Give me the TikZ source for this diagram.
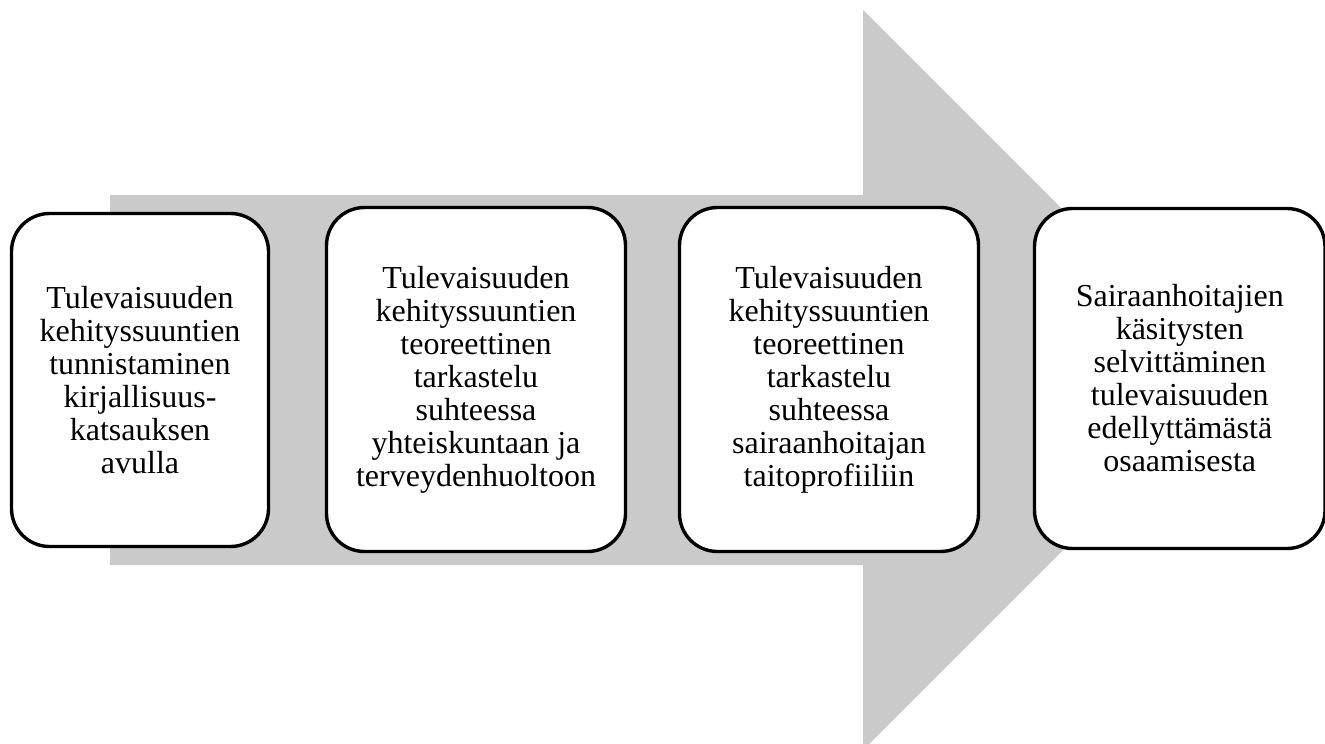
\documentclass[tikz,border=0pt]{standalone}
\usepackage{fontspec}
\setmainfont{Liberation Serif}
\definecolor{arrowgray}{RGB}{202,202,202}
\begin{document}
\begin{tikzpicture}[x=1pt,y=-1pt,
  stagebox/.style={draw=black, line width=3.4pt, fill=white, rounded corners=38pt,
    align=center, inner sep=0pt, font=\fontsize{32}{33}\selectfont}]
  \useasboundingbox (0,0) rectangle (1325,744);
  \clip (0,0) rectangle (1325,744);
  % broad gray process arrow behind the stages
  \fill[arrowgray] (110,195) -- (863,195) -- (863,10) -- (1233,380)
    -- (863,750) -- (863,565) -- (110,565) -- cycle;
  % stages
  \node[stagebox, minimum width=257pt, minimum height=333pt] (s1) at (140,380)
    {Tulevaisuuden\\kehityssuuntien\\tunnistaminen\\kirjallisuus-\\katsauksen\\avulla};
  \node[stagebox, minimum width=299pt, minimum height=344pt] (s2) at (476,379.5)
    {Tulevaisuuden\\kehityssuuntien\\teoreettinen\\tarkastelu\\suhteessa\\yhteiskuntaan ja\\terveydenhuoltoon};
  \node[stagebox, minimum width=299pt, minimum height=344pt] (s3) at (829,379.5)
    {Tulevaisuuden\\kehityssuuntien\\teoreettinen\\tarkastelu\\suhteessa\\sairaanhoitajan\\taitoprofiiliin};
  \node[stagebox, minimum width=290.5pt, minimum height=340pt] (s4) at (1179.75,378.5)
    {Sairaanhoitajien\\käsitysten\\selvittäminen\\tulevaisuuden\\edellyttämästä\\osaamisesta};
\end{tikzpicture}
\end{document}
